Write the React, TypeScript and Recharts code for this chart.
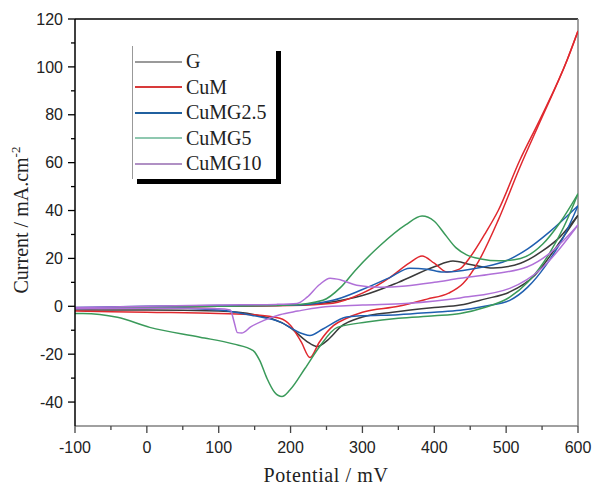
import { LineChart, Line, XAxis, YAxis, ReferenceLine, Label } from 'recharts';

// each CV loop is split in the anodic (upper) and cathodic (lower) branch, [potential mV, current mA/cm2]
const G_UP = [[-100, -1], [0, -0.5], [100, 0], [200, 0.5], [250, 1.5], [300, 4.5], [350, 10], [400, 16.5], [426, 18.9], [450, 17.5], [482, 16], [520, 18], [550, 23], [575, 29], [600, 38]];
const G_DOWN = [[-100, -1.5], [0, -1.5], [100, -2], [150, -3.5], [200, -9], [222, -14.5], [237, -16.8], [252, -14], [270, -8.5], [300, -4.5], [342, -2.5], [400, -0.5], [436, 0.5], [470, 3], [505, 6], [540, 13], [575, 27], [600, 38]];

const CUM_UP = [[-100, -1], [0, -0.5], [100, 0], [200, 0.3], [259, 1.3], [300, 5.5], [338, 12], [365, 18], [383, 21], [400, 18], [418, 14.3], [435, 15.5], [450, 20.6], [470, 30], [489, 40], [519, 61], [547, 78], [585, 103], [600, 115]];
const CUM_DOWN = [[-100, -2], [0, -2.5], [100, -3], [150, -3.5], [185, -5], [200, -8], [215, -15], [227, -21.4], [240, -15], [260, -8], [278, -5], [300, -2.5], [350, 0], [390, 3], [420, 5.5], [440, 9.5], [462, 19], [489, 36], [519, 58], [547, 77], [585, 103], [600, 115]];

const CUMG25_UP = [[-100, -0.5], [0, 0], [100, 0.3], [199, 0.4], [259, 2.5], [300, 7], [338, 12], [366, 15.9], [390, 15.5], [412, 14.3], [440, 15], [468, 16.4], [500, 19], [530, 24], [560, 31], [600, 42]];
const CUMG25_DOWN = [[-100, -1], [0, -0.5], [100, -1.5], [150, -4], [185, -6.5], [217, -11.5], [227, -12.2], [245, -9.5], [278, -4.5], [297, -4], [350, -3.5], [400, -2.5], [436, -1.7], [470, 0], [505, 2.5], [530, 8], [555, 17], [580, 29], [600, 42]];

const CUMG5_UP = [[-100, -1], [0, -0.5], [100, 0], [200, 0.5], [245, 2.5], [270, 8], [290, 15], [325, 25.5], [360, 34], [383, 37.7], [400, 35.5], [415, 30], [430, 24.5], [445, 21.5], [465, 19.8], [490, 19], [520, 20], [551, 26], [575, 35], [600, 47]];
const CUMG5_DOWN = [[-100, -3], [-89, -3], [-41, -4.6], [4, -8.8], [74, -12.9], [120, -15.7], [148, -18.5], [157, -22.6], [167, -30], [178, -36], [188, -37.7], [199, -35], [220, -26], [240, -17], [265, -8.8], [306, -6.6], [350, -5], [400, -4], [436, -3], [470, -0.5], [505, 3.8], [530, 10], [560, 22], [580, 33], [600, 47]];

const CUMG10_UP = [[-100, -0.5], [0, 0], [100, 0.5], [180, 0.8], [209, 1.2], [223, 3.8], [240, 9], [255, 11.7], [270, 11], [292, 8.8], [324, 8], [360, 8.5], [400, 10], [436, 11.7], [480, 13.5], [529, 16.4], [560, 22], [600, 34]];
const CUMG10_DOWN = [[-100, -1], [0, -0.8], [100, -1], [116, -1.5], [121, -6], [126, -11], [132, -11.2], [145, -8.5], [162, -6], [185, -3.5], [210, -2], [240, -0.5], [300, 0.5], [360, 1.2], [436, 3.5], [505, 7.5], [550, 16], [600, 34]];

const SERIES = [
  { name: 'G', color: '#3a3a3a', legendColor: '#9a9a9a', up: G_UP, down: G_DOWN },
  { name: 'CuM', color: '#e0282e', legendColor: '#d83a3a', up: CUM_UP, down: CUM_DOWN },
  { name: 'CuMG2.5', color: '#1f5fb0', legendColor: '#20609f', up: CUMG25_UP, down: CUMG25_DOWN },
  { name: 'CuMG5', color: '#3a9a5a', legendColor: '#8fc8b0', up: CUMG5_UP, down: CUMG5_DOWN },
  { name: 'CuMG10', color: '#b070d8', legendColor: '#b090c4', up: CUMG10_UP, down: CUMG10_DOWN },
];

const X_TICKS = [-100, -50, 0, 50, 100, 150, 200, 250, 300, 350, 400, 450, 500, 550, 600];
const Y_TICKS = [-40, -30, -20, -10, 0, 10, 20, 30, 40, 50, 60, 70, 80, 90, 100, 110, 120];

const toPoints = (arr: number[][]) => arr.map(([x, y]) => ({ x, y }));

const tickFont = { fontFamily: '"Liberation Sans", Arial, sans-serif', fontSize: 16, fill: '#222' };
const serif = '"Liberation Serif", "Times New Roman", serif';

function XTick(props: any) {
  const { x, y, payload } = props;
  const major = payload.value % 100 === 0;
  return (
    <g>
      <line x1={x} x2={x} y1={y} y2={y + (major ? 7 : 4)} stroke="#444" strokeWidth={1.3} />
      {major && (
        <text x={x} y={y + 27} textAnchor="middle" {...tickFont}>
          {payload.value}
        </text>
      )}
    </g>
  );
}

function YTick(props: any) {
  const { x, y, payload } = props;
  const major = payload.value % 20 === 0;
  return (
    <g>
      <line x1={x} x2={x - (major ? 7 : 4)} y1={y} y2={y} stroke="#000" strokeWidth={1.3} />
      {major && (
        <text x={x - 12} y={y + 5.7} textAnchor="end" {...tickFont}>
          {payload.value}
        </text>
      )}
    </g>
  );
}

export default function App() {
  return (
    <div style={{ position: 'absolute', left: 0, top: 0, width: 594, height: 486, background: '#fff' }}>
      <LineChart width={594} height={486} margin={{ top: 19, right: 16, bottom: 0, left: 0 }}>
        <XAxis
          type="number"
          dataKey="x"
          domain={[-100, 600]}
          ticks={X_TICKS}
          interval={0}
          allowDataOverflow
          height={60}
          tickSize={0}
          tickMargin={0}
          tick={<XTick />}
          axisLine={{ stroke: '#808080', strokeWidth: 1.5 }}
        >
          <Label
            content={() => (
              <text x={326} y={482} textAnchor="middle" fontFamily={serif} fontSize={20} letterSpacing={0.6} fill="#222">
                Potential / mV
              </text>
            )}
          />
        </XAxis>
        <YAxis
          type="number"
          dataKey="y"
          domain={[-50, 120]}
          ticks={Y_TICKS}
          interval={0}
          allowDataOverflow
          width={75}
          tickSize={0}
          tickMargin={0}
          tick={<YTick />}
          axisLine={{ stroke: '#000', strokeWidth: 1.5 }}
        >
          <Label
            content={() => (
              <text x={28} y={220} textAnchor="middle" transform="rotate(-90, 28, 220)" fontFamily={serif} fontSize={20} fill="#222">
                Current / mA.cm<tspan dy={-8} fontSize={13}>-2</tspan>
              </text>
            )}
          />
        </YAxis>
        <ReferenceLine y={120} stroke="#000" strokeWidth={1.5} />
        <ReferenceLine x={600} stroke="#808080" strokeWidth={1.5} />
        {SERIES.flatMap((s) => [
          <Line
            key={s.name + '-up'}
            data={toPoints(s.up)}
            dataKey="y"
            type="monotone"
            stroke={s.color}
            strokeWidth={1.5}
            dot={false}
            isAnimationActive={false}
          />,
          <Line
            key={s.name + '-down'}
            data={toPoints(s.down)}
            dataKey="y"
            type="monotone"
            stroke={s.color}
            strokeWidth={1.5}
            dot={false}
            isAnimationActive={false}
          />,
        ])}
      </LineChart>
      <div
        style={{
          position: 'absolute',
          left: 132,
          top: 46,
          width: 143,
          height: 133,
          background: '#fff',
          borderLeft: '1px solid #999',
          boxShadow: '5px 5px 0 #000',
          fontFamily: serif,
          fontSize: 20,
          color: '#222',
        }}
      >
        {SERIES.map((s, i) => (
          <div key={s.name} style={{ position: 'absolute', left: 0, top: 3 + i * 25.6, height: 25, display: 'flex', alignItems: 'center', whiteSpace: 'nowrap' }}>
            <span style={{ display: 'inline-block', marginLeft: 2, width: 47, height: 2, background: s.legendColor }} />
            <span style={{ marginLeft: 4, lineHeight: '25px' }}>{s.name}</span>
          </div>
        ))}
      </div>
    </div>
  );
}
